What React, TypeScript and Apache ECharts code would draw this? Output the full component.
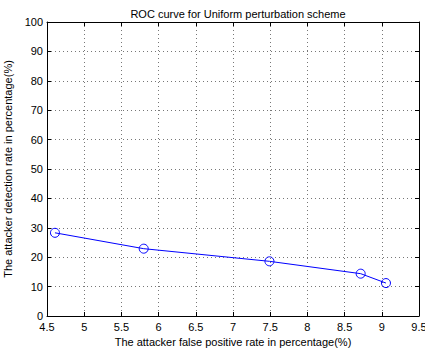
import React, { useEffect, useRef } from "react";
import * as echarts from "echarts";

const falsePositive = [4.607, 5.8, 7.49, 8.716, 9.056];
const detection = [28.3, 22.9, 18.6, 14.4, 11.2];
const titleText = "ROC curve for Uniform perturbation scheme";
const xName = "The attacker false positive rate in percentage(%)";
const yName = "The attacker detection rate in percentage(%)";

export default function App() {
  const ref = useRef<HTMLDivElement>(null);
  useEffect(() => {
    const chart = echarts.init(ref.current!, null, { renderer: "svg" });
    const font = "Liberation Sans, Arial, sans-serif";
    const baseAxis = {
      type: "value" as const,
      axisLine: { show: true, onZero: false, lineStyle: { color: "#000", width: 1 } },
      axisTick: { show: true, inside: true, length: 4, lineStyle: { color: "#000" } },
      splitLine: { show: false },
    };
    const grid = { show: true, lineStyle: { color: "#777", type: [1, 3], width: 1 } };
    chart.setOption({
      animation: false,
      backgroundColor: "#fff",
      title: {
        text: titleText,
        left: 233,
        textAlign: "center",
        top: 3,
        textStyle: { fontFamily: font, fontSize: 11, fontWeight: "normal", color: "#000" },
      },
      grid: { left: 47, top: 22, right: 6, bottom: 35, show: false, containLabel: false, outerBoundsMode: "none" },
      xAxis: [
        {
          ...baseAxis,
          min: 4.5,
          max: 9.5,
          interval: 0.5,
          position: "bottom",
          name: xName,
          nameLocation: "middle",
          nameGap: 20,
          nameTextStyle: { fontFamily: font, fontSize: 11, color: "#000" },
          axisLabel: { fontFamily: font, fontSize: 11, color: "#000", margin: 5 },
          splitLine: grid,
        },
        {
          ...baseAxis,
          min: 4.5,
          max: 9.5,
          interval: 0.5,
          position: "top",
          axisLabel: { show: false },
        },
      ],
      yAxis: [
        {
          ...baseAxis,
          min: 0,
          max: 100,
          interval: 10,
          position: "left",
          name: yName,
          nameLocation: "middle",
          nameGap: 27,
          nameTextStyle: { fontFamily: font, fontSize: 11, color: "#000" },
          axisLabel: { fontFamily: font, fontSize: 11, color: "#000", margin: 4 },
          splitLine: grid,
        },
        {
          ...baseAxis,
          min: 0,
          max: 100,
          interval: 10,
          position: "right",
          axisLabel: { show: false },
        },
      ],
      series: [
        {
          type: "line",
          data: falsePositive.map((x, i) => [x, detection[i]]),
          symbol: "circle",
          symbolSize: 9,
          showAllSymbol: true,
          lineStyle: { color: "#0000ff", width: 1 },
          itemStyle: { color: "rgba(0,0,0,0)", borderColor: "#0000ff", borderWidth: 1 },
        },
      ],
    });
    return () => chart.dispose();
  }, []);
  return <div ref={ref} style={{ width: 425, height: 351, position: "absolute", left: 0, top: 0 }} />;
}
